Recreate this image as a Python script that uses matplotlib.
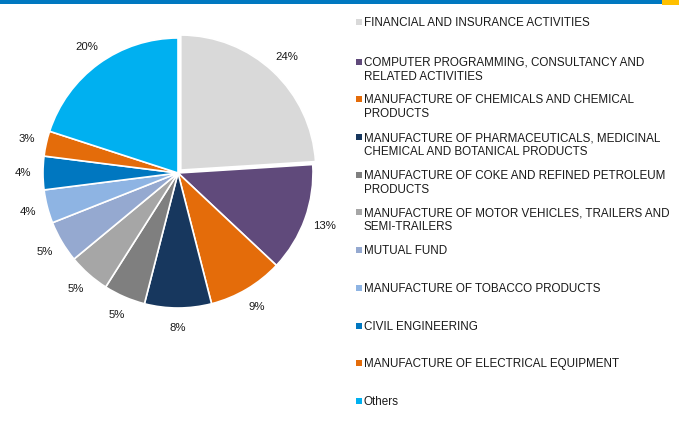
import matplotlib
matplotlib.use("Agg")
import matplotlib.pyplot as plt
from matplotlib.patches import Rectangle

plt.rcParams['font.family'] = ['Liberation Sans', 'DejaVu Sans']

# sector shares (%), clockwise from 12 o'clock
sectors = [
    "FINANCIAL AND INSURANCE ACTIVITIES",
    "COMPUTER PROGRAMMING, CONSULTANCY AND\nRELATED ACTIVITIES",
    "MANUFACTURE OF CHEMICALS AND CHEMICAL\nPRODUCTS",
    "MANUFACTURE OF PHARMACEUTICALS, MEDICINAL\nCHEMICAL AND BOTANICAL PRODUCTS",
    "MANUFACTURE OF COKE AND REFINED PETROLEUM\nPRODUCTS",
    "MANUFACTURE OF MOTOR VEHICLES, TRAILERS AND\nSEMI-TRAILERS",
    "MUTUAL FUND",
    "MANUFACTURE OF TOBACCO PRODUCTS",
    "CIVIL ENGINEERING",
    "MANUFACTURE OF ELECTRICAL EQUIPMENT",
    "Others",
]
shares = [24, 13, 9, 8, 5, 5, 5, 4, 4, 3, 20]
colors = ["#D9D9D9", "#604A7B", "#E46C0A", "#17375E", "#7F7F7F", "#A6A6A6",
          "#95A9D0", "#8EB4E3", "#0077C0", "#E46C0A", "#00B0F0"]
explode = [0.03] + [0] * (len(shares) - 1)

W, H = 679, 423
fig = plt.figure(figsize=(W / 100, H / 100), dpi=100)

# header strip
fig.add_artist(Rectangle((0, 1 - 4 / H), 1, 4 / H, transform=fig.transFigure,
                         color="#0078C0", lw=0))
fig.add_artist(Rectangle((662 / W, 1 - 5 / H), 17 / W, 5 / H, transform=fig.transFigure,
                         color="#FFC000", lw=0))

# pie: centre (178, 173) px, radius 135 px, limits +-1.3
cx, cy, r, lim = 178, 173, 135, 1.3
half = r * lim
ax = fig.add_axes([(cx - half) / W, (H - cy - half) / H, 2 * half / W, 2 * half / H])
wedges, texts, autotexts = ax.pie(
    shares, colors=colors, explode=explode, startangle=90, counterclock=False,
    autopct=lambda p: f"{p:.0f}%", pctdistance=1.15,
    wedgeprops=dict(edgecolor="white", linewidth=1.2),
    textprops=dict(fontsize=8.2, color="#1a1a1a"))
ax.set_xlim(-lim, lim)
ax.set_ylim(-lim, lim)
ax.axis("off")

# legend on the right, one slot per sector
for i, (lab, col) in enumerate(zip(sectors, colors)):
    y = 22 + i * 37.7 + (2 if i > 0 else 0)
    fig.add_artist(Rectangle((356 / W, 1 - (y + 3) / H), 6 / W, 6 / H,
                             transform=fig.transFigure, color=col, lw=0))
    fig.text(364 / W, 1 - (y - 5) / H, lab, fontsize=8.4, color="#1a1a1a",
             va="top", ha="left", linespacing=1.2)

fig.savefig("out.png", dpi=100)
